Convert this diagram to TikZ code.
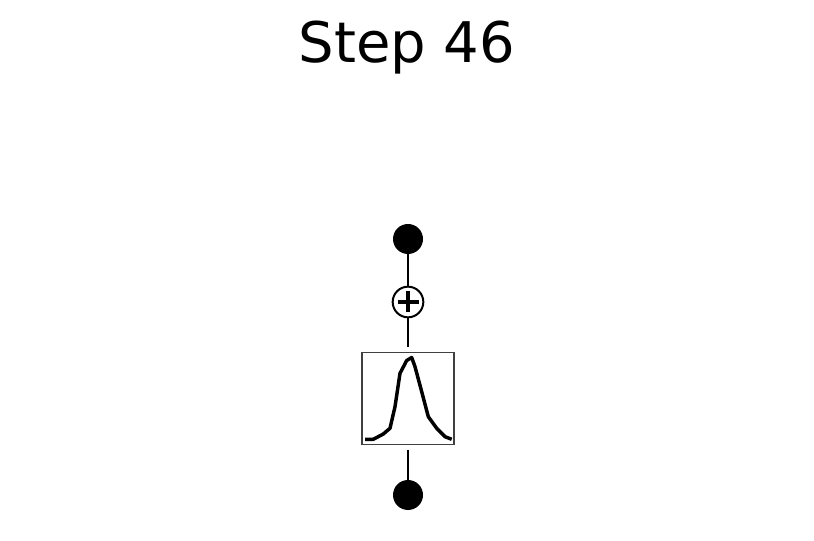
\documentclass[tikz,border=0pt]{standalone}
\usepackage{fontspec}
\setmainfont{DejaVu Sans}
\tikzset{
  dotnode/.style={circle, fill=black, inner sep=0pt, minimum size=22.5pt},
  sumnode/.style={circle, draw=black, line width=1.5pt, fill=white, inner sep=0pt, minimum size=23pt},
  kernelbox/.style={draw=black!75, line width=0.9pt, inner sep=0pt, minimum width=69pt, minimum height=68.5pt},
  wire/.style={line width=1.5pt},
}
\begin{document}
\begin{tikzpicture}[x=0.75pt, y=-0.75pt]
            \useasboundingbox (0,0) rectangle (814,541);%
            
            % Marking title
            \node [anchor=base, font=\fontsize{42}{50}\selectfont] (title) at (407,63) {Step 46};%
            
            % Marking input and output points
            \node [dotnode] (top) at (408,239) {};%
            \node [dotnode] (bottom) at (408,495) {};%
            
            % Marking sum point
            \node [sumnode] (sum) at (408,302) {};%
            \draw [line width=3.4pt] (397.5,302) -- (418.5,302);%
            \draw [line width=3.4pt] (408,291.5) -- (408,312.5);%
            
            % Marking kernel box
            \node [kernelbox] (kernel) at (408,398.5) {};%
            \coordinate (kerneltop) at (408,347);%
            \coordinate (kernelbot) at (408,450);%
            
            % Drawing wires
            \draw [wire] (top) -- (sum);%
            \draw [wire] (sum) -- (kerneltop);%
            \draw [wire] (kernelbot) -- (bottom);%
            
            % Drawing curve in kernel box
            \draw [line width=2.6pt, line join=round] (365,439.3) -- (373.3,439.3) -- (383.3,434) -- (390,428.3) -- (395,406.7) -- (400,373.3) -- (406.7,360.5) -- (411.7,357.5) -- (415,366.7) -- (421.7,391.7) -- (428.3,416.7) -- (436.7,428.3) -- (445,436.7) -- (451.7,439.3);%
        \end{tikzpicture}
\end{document}
